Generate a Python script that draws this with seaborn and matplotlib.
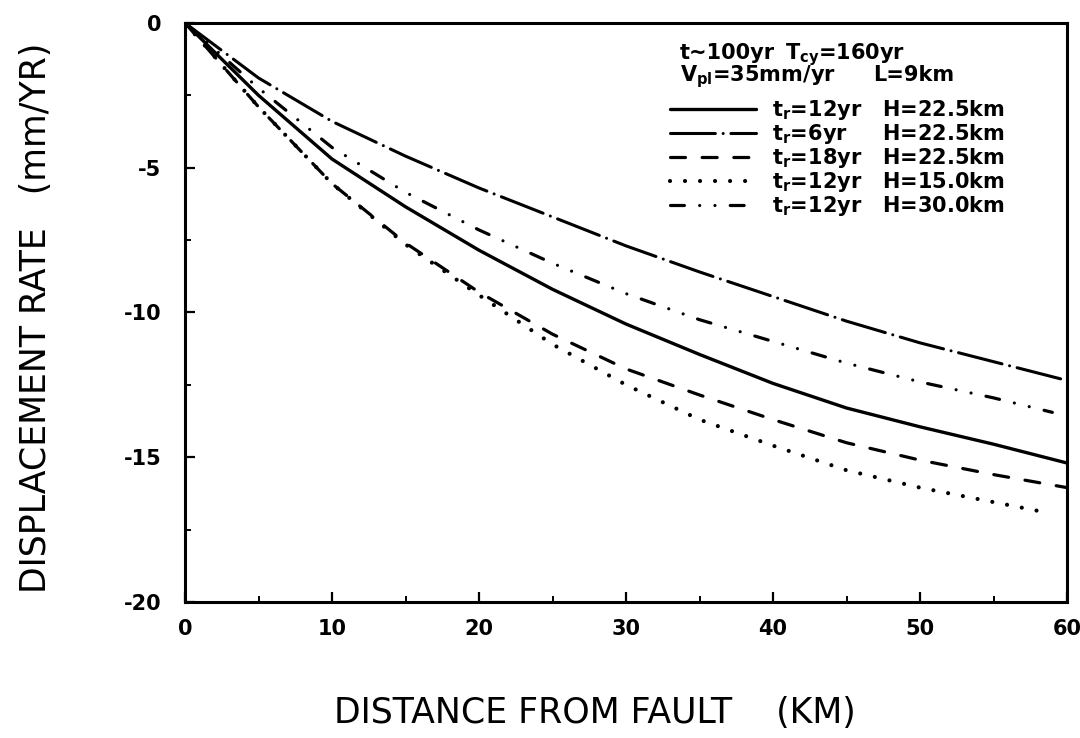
import matplotlib
matplotlib.use("Agg")
import matplotlib.pyplot as plt
from matplotlib.ticker import MultipleLocator
import pandas as pd
import seaborn as sns

# distance from fault (km)
dist = [0, 5, 10, 15, 20, 25, 30, 35, 40, 45, 50, 55, 60]
dist_h30 = [0, 5, 10, 15, 20, 25, 30, 35, 40, 45, 50, 55, 59]
dist_h15 = [0, 5, 10, 15, 20, 25, 30, 35, 40, 45, 50, 55, 58]

# displacement rate (mm/yr)
rate_tr12_h225 = [0, -2.5, -4.7, -6.35, -7.85, -9.2, -10.4, -11.45, -12.45, -13.3, -13.95, -14.55, -15.2]
rate_tr6_h225 = [0, -1.9, -3.4, -4.6, -5.7, -6.7, -7.7, -8.6, -9.45, -10.3, -11.05, -11.7, -12.35]
rate_tr18_h225 = [0, -2.9, -5.55, -7.6, -9.3, -10.75, -11.95, -12.85, -13.7, -14.5, -15.1, -15.6, -16.05]
rate_tr12_h15 = [0, -2.9, -5.55, -7.65, -9.4, -11.1, -12.5, -13.7, -14.6, -15.45, -16.05, -16.55, -16.85]
rate_tr12_h30 = [0, -2.25, -4.3, -5.85, -7.15, -8.3, -9.35, -10.25, -11.0, -11.75, -12.4, -12.95, -13.45]

labels = [r"t$_r$=12yr   H=22.5km",
          r"t$_r$=6yr     H=22.5km",
          r"t$_r$=18yr   H=22.5km",
          r"t$_r$=12yr   H=15.0km",
          r"t$_r$=12yr   H=30.0km"]

sns.set_theme(style="ticks")
plt.rcParams["font.family"] = ["DejaVu Sans"]
plt.rcParams["mathtext.default"] = "regular"
plt.rcParams["axes.unicode_minus"] = False
plt.rcParams["lines.scale_dashes"] = False

fig = plt.figure(figsize=(10.8, 7.38), dpi=100)
ax = fig.add_axes([0.1713, 0.1843, 0.8167, 0.7846])

series = [
    (dist, rate_tr12_h225, "-"),
    (dist, rate_tr6_h225, (0, (32.3, 5.6, 0.01, 5.6))),
    (dist, rate_tr18_h225, (0, (10.8, 12.0))),
    (dist_h15, rate_tr12_h15, (0, (0.01, 10.8))),
    (dist_h30, rate_tr12_h30, (0, (10.0, 11.0, 0.01, 11.0, 0.01, 11.0))),
]
lws = [2.4, 2.2, 2.3, 3.0, 2.3]

for (xs, ys, ls), lw, lab in zip(series, lws, labels):
    df = pd.DataFrame({"dist": xs, "rate": ys})
    sns.lineplot(data=df, x="dist", y="rate", ax=ax, color="black", lw=lw,
                 linestyle=ls, dash_capstyle="round", solid_capstyle="round",
                 solid_joinstyle="round", label=lab)

ax.set_xlim(0, 60)
ax.set_ylim(-20, 0)
ax.xaxis.set_major_locator(MultipleLocator(10))
ax.xaxis.set_minor_locator(MultipleLocator(5))
ax.yaxis.set_major_locator(MultipleLocator(5))
ax.yaxis.set_minor_locator(MultipleLocator(2.5))
ax.tick_params(which="major", direction="in", length=7, width=1.6, color="black",
               labelsize=15, labelcolor="black")
ax.tick_params(which="minor", direction="in", length=4, width=1.4, color="black")
ax.tick_params(axis="y", which="major", pad=17)
ax.tick_params(axis="x", which="major", pad=12)
for t in ax.get_xticklabels() + ax.get_yticklabels():
    t.set_fontweight("bold")
for sp in ax.spines.values():
    sp.set_visible(True)
    sp.set_linewidth(2.2)
    sp.set_color("black")

ax.set_xlabel("DISTANCE FROM FAULT    (KM)", fontsize=25, color="black")
ax.set_ylabel("DISPLACEMENT RATE   (mm/YR)", fontsize=25, color="black")
ax.xaxis.set_label_coords(0.465, -0.163)
ax.yaxis.set_label_coords(-0.15, 0.49)

# header text of the legend block
hdr = dict(fontsize=15, fontweight="bold", color="black", transform=ax.transAxes,
           va="baseline", ha="left")
ax.text(0.561, 0.937, "t~100yr", **hdr)
ax.text(0.680, 0.937, r"T$_{cy}$=160yr", **hdr)
ax.text(0.561, 0.899, r"V$_{pl}$=35mm/yr", **hdr)
ax.text(0.780, 0.899, "L=9km", **hdr)

leg = ax.legend(loc="upper left", bbox_to_anchor=(0.550, 0.870), frameon=False,
                borderpad=0, borderaxespad=0, handlelength=4.1, handletextpad=0.8,
                labelspacing=0.0, prop={"size": 15, "weight": "bold"})
for t in leg.get_texts():
    t.set_color("black")

fig.savefig("out.png", dpi=100, facecolor="white")
